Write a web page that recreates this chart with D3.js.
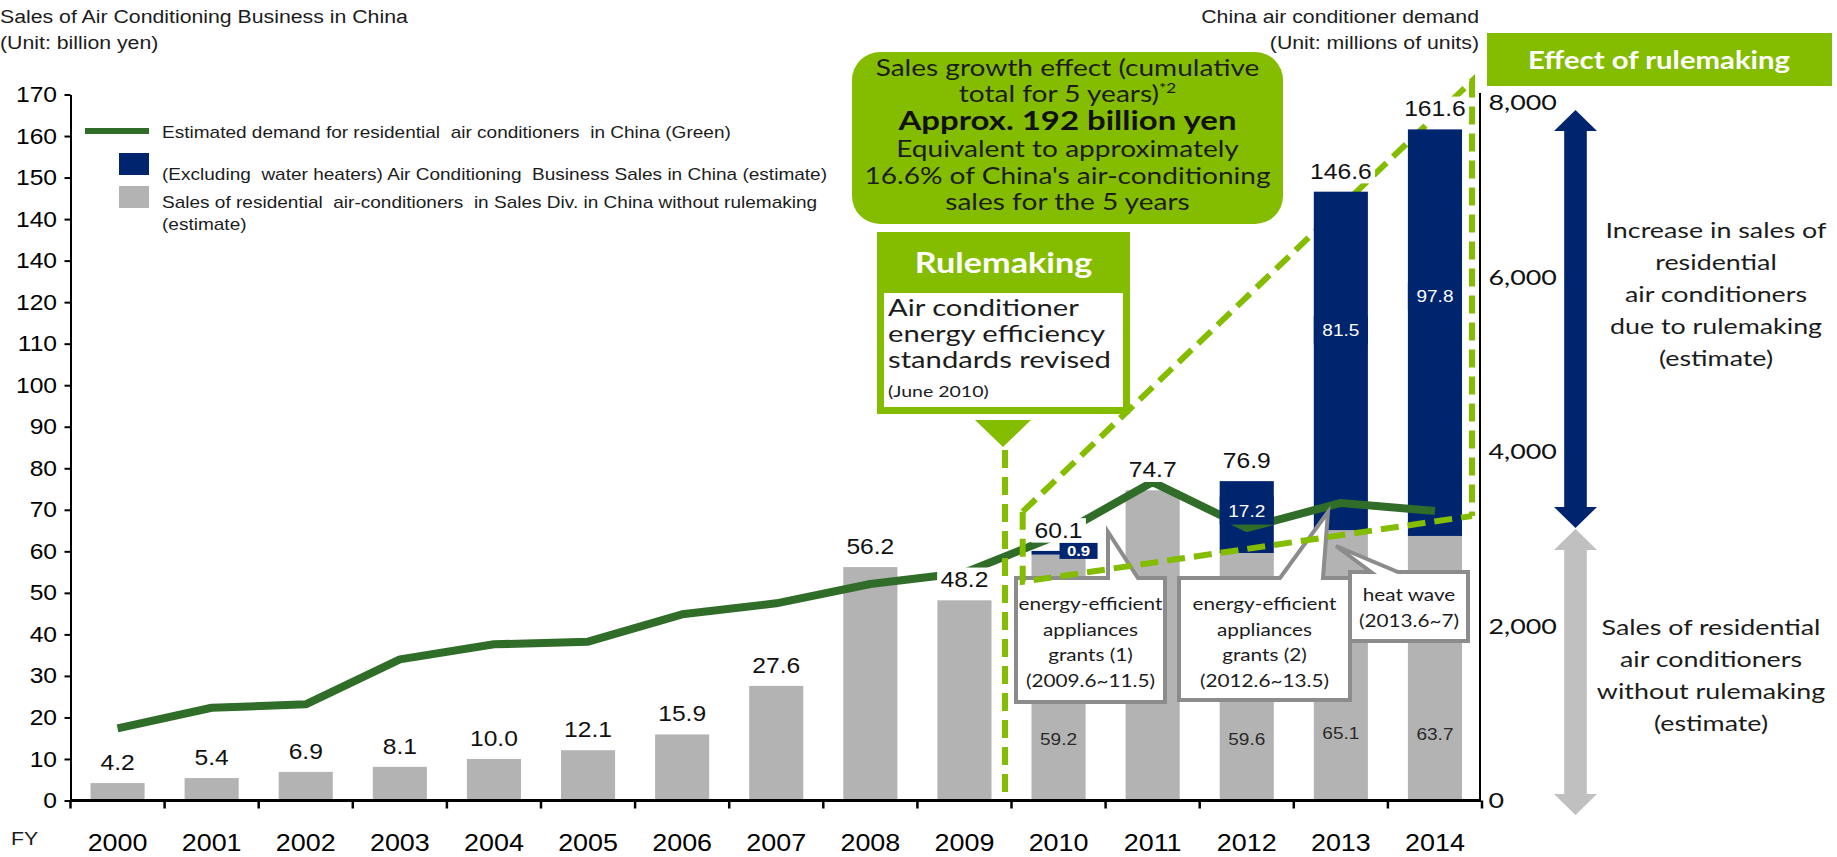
<!DOCTYPE html>
<html>
<head>
<meta charset="utf-8">
<script src="https://cdnjs.cloudflare.com/ajax/libs/d3/7.8.5/d3.min.js"></script>
<style>
    body { margin: 0; background: #fff; }
    svg { display: block; }
</style>
</head>
<body>
<svg id="chart" width="1837" height="857"></svg>
<script>
// data
var years = [2000, 2001, 2002, 2003, 2004, 2005, 2006, 2007, 2008, 2009, 2010, 2011, 2012, 2013, 2014];
var graySales = [4.2, 5.4, 6.9, 8.1, 10.0, 12.1, 15.9, 27.6, 56.2, 48.2, 59.2, 74.7, 59.6, 65.1, 63.7];
var blueSales = [0, 0, 0, 0, 0, 0, 0, 0, 0, 0, 0.9, 0, 17.2, 81.5, 97.8];
var totalSales = [4.2, 5.4, 6.9, 8.1, 10.0, 12.1, 15.9, 27.6, 56.2, 48.2, 60.1, 74.7, 76.9, 146.6, 161.6];
var demand = [827, 1063, 1102, 1618, 1790, 1820, 2134, 2260, 2481, 2611, 3043, 3650, 3123, 3410, 3318];
var leftTicks = [0, 10, 20, 30, 40, 50, 60, 70, 80, 90, 100, 110, 120, 130, 140, 150, 160, 170];
var leftTickLabels = ["0", "10", "20", "30", "40", "50", "60", "70", "80", "90", "100", "110", "120", "140", "140", "150", "160", "170"];
var rightTicks = [0, 2000, 4000, 6000, 8000];

var GREEN = "#84bd00", LINE = "#2f6d28", NAVY = "#00256f", GRAY = "#b3b3b3", INK = "#1c1c1c";
var ARIAL = "'Liberation Sans', Arial, sans-serif";
var CAL = "Lato, 'Open Sans', sans-serif";
var SXA = 1.12, SXC = 1.22;

var svg = d3.select("#chart");

var x = d3.scaleBand().domain(years).range([70.5, 1482]).paddingInner(0.425).paddingOuter(0.2125);
var yL = d3.scaleLinear().domain([0, 170]).range([800.5, 94.5]);
var yR = d3.scaleLinear().domain([0, 8000]).range([800.5, 102.5]);
function cx(d) { return x(d) + x.bandwidth() / 2; }

function txt(parent, px, py, s, o) {
    var g = parent.append("g")
        .attr("transform", "translate(" + px + "," + py + ") scale(" + (o.sx || 1) + ",1)");
    g.append("text")
        .attr("text-anchor", o.anchor || "start")
        .attr("fill", o.fill || INK)
        .style("font-family", o.font)
        .style("font-size", o.size + "px")
        .style("font-weight", o.weight || 400)
        .text(s);
    return g;
}

function lines(parent, px, py, dy, arr, o) {
    arr.forEach(function(s, i) { txt(parent, px, py + i * dy, s, o); });
}

function boxed(parent, px, py, s, o, bg, pad) {
    var g = txt(parent, px, py, s, o);
    var bb = g.select("text").node().getBBox();
    g.insert("rect", "text")
        .attr("x", bb.x - pad).attr("y", bb.y)
        .attr("width", bb.width + 2 * pad).attr("height", bb.height)
        .attr("fill", bg);
    return g;
}

var dashStyle = function(sel) {
    sel.attr("fill", "none").attr("stroke", GREEN).attr("stroke-width", 6).attr("stroke-dasharray", "18,9");
};

var gBack = svg.append("g");
var gBars = svg.append("g");
var gAxes = svg.append("g");
var gLine = svg.append("g");
var gLabels = svg.append("g");
var gNotes = svg.append("g");
var gFront = svg.append("g");

// effect area (diagonal + right side sit behind the bars)
gBack.append("path").attr("d", "M1022.7,511.7 L1472,81 L1472,516").call(dashStyle);

// bars
gBars.selectAll(".gray").data(years).enter().append("rect")
    .attr("class", "gray")
    .attr("x", function(d) { return x(d); })
    .attr("width", x.bandwidth())
    .attr("y", function(d, i) { return yL(graySales[i]); })
    .attr("height", function(d, i) { return yL(0) - yL(graySales[i]); })
    .attr("fill", GRAY);

gBars.selectAll(".blue").data(years.filter(function(d, i) { return blueSales[i] > 0; })).enter().append("rect")
    .attr("class", "blue")
    .attr("x", function(d) { return x(d); })
    .attr("width", x.bandwidth())
    .attr("y", function(d) { return yL(totalSales[years.indexOf(d)]); })
    .attr("height", function(d) { var i = years.indexOf(d); return yL(graySales[i]) - yL(totalSales[i]); })
    .attr("fill", NAVY);

// axes
var left = gAxes.append("g").attr("transform", "translate(70.5,0)")
    .call(d3.axisLeft(yL).tickValues(leftTicks).tickFormat(function(d, i) { return leftTickLabels[i]; })
        .tickSize(6).tickSizeOuter(0).tickPadding(6));
left.selectAll("path, line").attr("stroke", "#000").attr("stroke-width", 2);
left.selectAll("text").attr("transform", "scale(" + SXA + ",1)").attr("fill", "#000")
    .style("font-family", ARIAL).style("font-size", "22px");

var right = gAxes.append("g").attr("transform", "translate(1480,0)")
    .call(d3.axisRight(yR).tickValues(rightTicks).tickFormat(d3.format(",")).tickSize(0).tickSizeOuter(0).tickPadding(7));
right.select(".domain").remove();
right.append("line").attr("y1", 93).attr("y2", 801).attr("stroke", "#000").attr("stroke-width", 2);
right.selectAll("text").attr("transform", "scale(" + SXC + ",1)").attr("fill", "#111")
    .style("font-family", CAL).style("font-size", "22px");

gAxes.append("line").attr("x1", 70.5).attr("x2", 1481).attr("y1", 800.5).attr("y2", 800.5)
    .attr("stroke", "#000").attr("stroke-width", 3);
gAxes.selectAll(".xtick").data(d3.range(years.length + 1)).enter().append("line")
    .attr("x1", function(i) { return x.range()[0] + i * x.step(); })
    .attr("x2", function(i) { return x.range()[0] + i * x.step(); })
    .attr("y1", 800.5).attr("y2", 808.5)
    .attr("stroke", "#000").attr("stroke-width", 2.5);
years.forEach(function(d) {
    txt(gAxes, cx(d), 851, String(d), { font: ARIAL, size: 24, anchor: "middle", sx: SXA, fill: "#000" });
});
txt(gAxes, 11, 845, "FY", { font: ARIAL, size: 19, sx: SXA });

// demand line
var demandLine = d3.line()
    .x(function(d, i) { return cx(years[i]); })
    .y(function(d) { return yR(d); });
gLine.append("path").datum(demand)
    .attr("d", demandLine)
    .attr("fill", "none").attr("stroke", LINE).attr("stroke-width", 8)
    .attr("stroke-linejoin", "round");

// value labels
years.forEach(function(d, i) {
    boxed(gLabels, cx(d), yL(totalSales[i]) - 13, d3.format(".1f")(totalSales[i]),
        { font: ARIAL, size: 22, anchor: "middle", sx: SXA, fill: "#111" }, "#fff", 3);
    if (blueSales[i] > 0) {
        txt(gLabels, cx(d), yL(graySales[i] / 4) + 6, d3.format(".1f")(graySales[i]),
            { font: ARIAL, size: 17, anchor: "middle", sx: SXA, fill: "#2a2a2a" });
        var segH = yL(graySales[i]) - yL(totalSales[i]);
        if (segH < 20) {
            var bx = cx(d) + 1, by = yL(totalSales[i]) - 8;
            gLabels.append("rect").attr("x", bx).attr("y", by).attr("width", 38).attr("height", 16).attr("fill", NAVY);
            txt(gLabels, bx + 19, by + 13.5, d3.format(".1f")(blueSales[i]),
                { font: ARIAL, size: 15, weight: 700, anchor: "middle", sx: SXA, fill: "#fff" });
        } else {
            var yc = yL(graySales[i] + 0.59 * (totalSales[i] - graySales[i]));
            gLabels.append("rect").attr("x", x(d)).attr("y", yc - 14).attr("width", x.bandwidth()).attr("height", 28).attr("fill", NAVY);
            txt(gLabels, cx(d), yc + 6, d3.format(".1f")(blueSales[i]),
                { font: ARIAL, size: 17, anchor: "middle", sx: SXA, fill: "#fff" });
        }
    }
});

// callouts
var callStyle = function(sel) {
    sel.attr("fill", "#fff").attr("stroke", "#8c8c8c").attr("stroke-width", 4).attr("stroke-linejoin", "miter");
};
var smallText = { font: CAL, size: 17, anchor: "middle", sx: SXC };
gNotes.append("path").attr("d", "M1016,578 H1108 L1108,532 L1138,578 H1165 V702 H1016 Z").call(callStyle);
lines(gNotes, 1090.5, 610, 25.7, ["energy-efficient", "appliances", "grants (1)", "(2009.6~11.5)"], smallText);
gNotes.append("path").attr("d", "M1179,578 H1280 L1328,512 L1323,578 H1350 V700 H1179 Z").call(callStyle);
lines(gNotes, 1264.5, 610, 25.7, ["energy-efficient", "appliances", "grants (2)", "(2012.6~13.5)"], smallText);
gNotes.append("path").attr("d", "M1350,572 H1371 L1336,546 L1398,572 H1468 V641 H1350 Z").call(callStyle);
lines(gNotes, 1409, 601, 26, ["heat wave", "(2013.6~7)"], smallText);

// dashed guides in front
gFront.append("path").attr("d", "M1022.7,511.7 L1022.7,581.7 L1472,516").call(dashStyle);
gFront.append("line").attr("x1", 1005).attr("x2", 1005).attr("y1", 450).attr("y2", 801).call(dashStyle);

// rulemaking box
gFront.append("rect").attr("x", 877).attr("y", 232).attr("width", 253).attr("height", 182).attr("fill", GREEN);
gFront.append("rect").attr("x", 884).attr("y", 293).attr("width", 239).attr("height", 114).attr("fill", "#fff");
gFront.append("path").attr("d", "M975,420 L1031,420 L1003,447 Z").attr("fill", GREEN);
txt(gFront, 1003.5, 273, "Rulemaking", { font: CAL, size: 28, weight: 700, anchor: "middle", sx: SXC, fill: "#fff" });
lines(gFront, 888, 316, 26, ["Air conditioner", "energy efficiency", "standards revised"], { font: CAL, size: 23, sx: 1.27 });
txt(gFront, 888, 397, "(June 2010)", { font: CAL, size: 16, sx: SXC });

// sales growth callout
gFront.append("rect").attr("x", 852).attr("y", 52).attr("width", 431).attr("height", 172).attr("rx", 28).attr("fill", GREEN);
var mid = 1067.5, calloutText = { font: CAL, size: 23, anchor: "middle", sx: SXC };
txt(gFront, mid, 76, "Sales growth effect (cumulative", calloutText);
var t2 = txt(gFront, mid, 102, "total for 5 years)", calloutText);
t2.select("text").append("tspan").attr("dy", -9).style("font-size", "14px").text("*2");
txt(gFront, mid, 130, "Approx. 192 billion yen", { font: CAL, size: 27, weight: 700, anchor: "middle", sx: SXC, fill: "#111" });
lines(gFront, mid, 157, 26.5, ["Equivalent to approximately", "16.6% of China's air-conditioning", "sales for the 5 years"], calloutText);

// effect of rulemaking
gFront.append("rect").attr("x", 1487).attr("y", 33).attr("width", 345).attr("height", 53).attr("fill", GREEN);
txt(gFront, 1659, 69, "Effect of rulemaking", { font: CAL, size: 24, weight: 700, anchor: "middle", sx: SXC, fill: "#fff" });

function dblArrow(px, top, bot, fill) {
    var hl = 21, hh = 21.5, sh = 11.3;
    var pts = [[px, top], [px + hh, top + hl], [px + sh, top + hl], [px + sh, bot - hl], [px + hh, bot - hl], [px, bot],
        [px - hh, bot - hl], [px - sh, bot - hl], [px - sh, top + hl], [px - hh, top + hl]];
    gFront.append("polygon").attr("points", pts.map(function(p) { return p.join(","); }).join(" ")).attr("fill", fill);
}
dblArrow(1575.5, 110, 528, NAVY);
dblArrow(1575.5, 529, 815, "#c0c0c0");

var sideText = { font: CAL, size: 22, anchor: "middle", sx: SXC };
lines(gFront, 1716, 238, 32, ["Increase in sales of", "residential", "air conditioners", "due to rulemaking", "(estimate)"], sideText);
lines(gFront, 1711, 635, 32, ["Sales of residential", "air conditioners", "without rulemaking", "(estimate)"], sideText);

// titles
txt(svg, 0, 23, "Sales of Air Conditioning Business in China", { font: ARIAL, size: 19, sx: SXA });
txt(svg, 0, 49, "(Unit: billion yen)", { font: ARIAL, size: 19, sx: SXA });
txt(svg, 1479, 23, "China air conditioner demand", { font: ARIAL, size: 19, anchor: "end", sx: SXA });
txt(svg, 1479, 49, "(Unit: millions of units)", { font: ARIAL, size: 19, anchor: "end", sx: SXA });

// legend
var legend = svg.append("g");
legend.append("line").attr("x1", 85).attr("x2", 149).attr("y1", 131).attr("y2", 131).attr("stroke", LINE).attr("stroke-width", 6);
legend.append("rect").attr("x", 119).attr("y", 153).attr("width", 30).attr("height", 22).attr("fill", NAVY);
legend.append("rect").attr("x", 119).attr("y", 186).attr("width", 30).attr("height", 22).attr("fill", GRAY);
var legText = { font: ARIAL, size: 17, sx: SXA };
txt(legend, 162, 138, "Estimated demand for residential  air conditioners  in China (Green)", legText);
txt(legend, 162, 180, "(Excluding  water heaters) Air Conditioning  Business Sales in China (estimate)", legText);
txt(legend, 162, 208, "Sales of residential  air-conditioners  in Sales Div. in China without rulemaking", legText);
txt(legend, 162, 230, "(estimate)", legText);
legend.selectAll("text").attr("xml:space", "preserve").style("white-space", "pre");
</script>
</body>
</html>
